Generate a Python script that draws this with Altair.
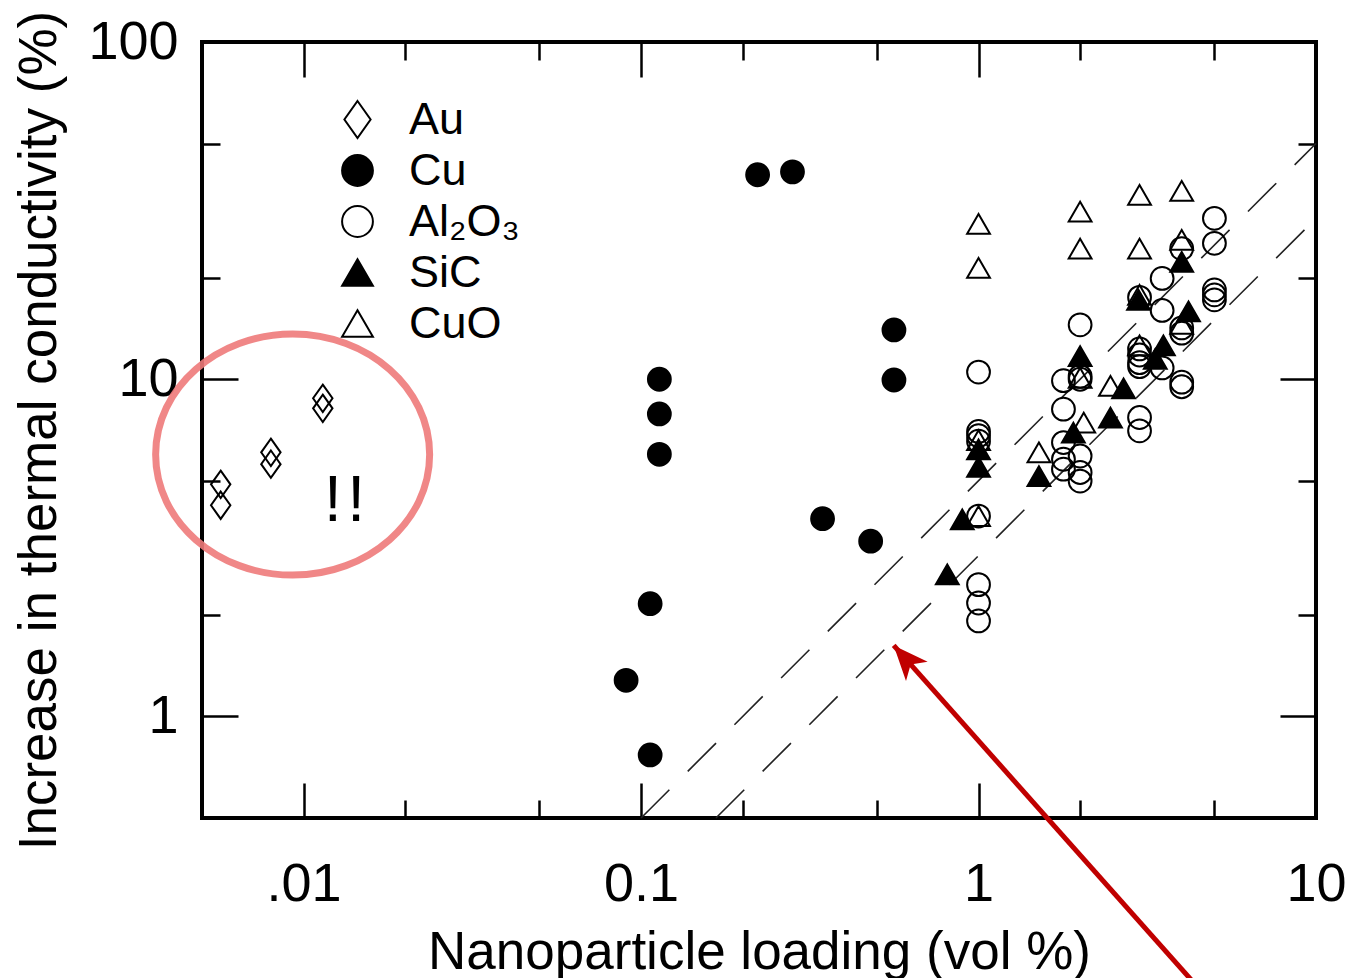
import math
import altair as alt
import pandas as pd

FONT = "Liberation Sans"

# ---------------- data ----------------
materials = ["Au", "Cu", "Al₂O₃", "SiC", "CuO"]

au_x = [0.00568, 0.00568, 0.0080, 0.0080, 0.0114, 0.0114]
au_y = [4.88, 4.23, 6.07, 5.60, 8.78, 8.20]

cu_x = [0.2215, 0.281, 0.5615, 0.5615, 0.1133, 0.1133, 0.1133, 0.345, 0.479, 0.1064, 0.0903, 0.1064]
cu_y = [40.4, 41.2, 14.0, 9.95, 10.0, 7.89, 5.99, 3.86, 3.31, 2.16, 1.28, 0.769]

al_x = [1.0, 1.0, 1.0, 1.0, 1.0, 1.0, 1.0, 1.0,
        1.785, 1.785, 1.785, 1.785, 1.785,
        2.0, 2.0, 2.0, 2.0, 2.0, 2.0,
        3.0, 3.0, 3.0, 3.0, 3.0, 3.0, 3.0,
        3.5, 3.5, 3.5,
        4.0, 4.0, 4.0, 4.0, 4.0,
        5.0, 5.0, 5.0, 5.0, 5.0]
al_y = [10.5, 7.0, 6.8, 6.55, 3.93, 2.46, 2.17, 1.92,
        9.9, 8.15, 6.49, 5.79, 5.41,
        14.5, 10.2, 10.0, 5.92, 5.29, 4.99,
        17.5, 12.3, 11.8, 11.2, 10.9, 7.70, 7.03,
        19.9, 16.0, 10.8,
        24.4, 14.2, 13.7, 9.8, 9.5,
        30.0, 25.3, 18.4, 17.8, 17.2]

sic_x = [1.0, 1.0, 1.51, 0.895, 0.808, 1.91, 2.0, 2.46, 2.69, 2.98, 3.34, 3.53, 4.19, 4.0]
sic_y = [6.2, 5.5, 5.16, 3.84, 2.64, 6.95, 11.7, 7.70, 9.4, 17.2, 11.5, 12.6, 15.9, 22.3]

cuo_x = [1.0, 1.0, 1.0, 1.0, 1.51, 2.0, 2.0, 2.0, 2.05, 2.46, 3.0, 3.0, 3.0, 3.0, 4.0, 4.0, 4.0]
cuo_y = [28.9, 21.4, 6.6, 3.93, 6.07, 31.4, 24.4, 10.1, 7.44, 9.55, 35.2, 24.4, 12.6, 17.8, 36.2, 25.9, 14.6]

# axes
x_domain = [0.005, 10]
y_domain = [0.5, 100]
x_major = [0.01, 0.1, 1, 10]
x_major_labels = [".01", "0.1", "1", "10"]
x_minor = [0.02, 0.05, 0.2, 0.5, 2, 5]
y_major = [1, 10, 100]
y_major_labels = ["1", "10", "100"]
y_minor = [2, 5, 20, 50]
x_title = "Nanoparticle loading (vol %)"
y_title = "Increase in thermal conductivity (%)"

# dashed guide lines (end points)
guide_names = ["upper", "lower"]
guide_x = [[0.1, 10], [0.1667, 10]]
guide_y = [[0.5, 50], [0.5, 30]]

# annotations
ellipse_x = [0.00928]
ellipse_y = [5.98]
note_x = [0.01322]
note_y = [3.79]
note_text = ["!\u200a!"]
arrow_x = [0.5605, 4.4]
arrow_y = [1.624, 0.16]

# ---------------- tables ----------------
rows = []
for name, xs, ys in zip(materials, [au_x, cu_x, al_x, sic_x, cuo_x], [au_y, cu_y, al_y, sic_y, cuo_y]):
    for a, b in zip(xs, ys):
        rows.append({"material": name, "x": a, "y": b})
pts = pd.DataFrame(rows)

grows = []
for n, xs, ys in zip(guide_names, guide_x, guide_y):
    for a, b in zip(xs, ys):
        grows.append({"line": n, "x": a, "y": b})
guides = pd.DataFrame(grows)

ell = pd.DataFrame({"x": ellipse_x, "y": ellipse_y})
note = pd.DataFrame({"x": note_x, "y": note_y, "t": note_text})
arrow = pd.DataFrame({"x": arrow_x, "y": arrow_y})
arrow_tip = arrow.iloc[[0]]

W, H = 1114, 776
xs_ = alt.Scale(type="log", domain=x_domain, nice=False)
ys_ = alt.Scale(type="log", domain=y_domain, nice=False)


def lab_expr(vals, labs):
    e = "''"
    for v, l in reversed(list(zip(vals, labs))):
        e = f"abs(log(datum.value)/LN10 - ({math.log10(v)})) < 0.01 ? '{l}' : ({e})"
    return e


def make_axis(orient, values, size, labels=None, title=None, **kw):
    props = dict(orient=orient, values=values, tickSize=size, offset=-size, domain=False,
                 grid=False, ticks=True, tickColor="black", tickWidth=2.5,
                 labelFlush=False, labelOverlap=False)
    if labels is None:
        props["labels"] = False
    else:
        props.update(labels=True, labelExpr=lab_expr(values, labels), labelFont=FONT,
                     labelFontSize=54, labelColor="black")
    if title is None:
        props["title"] = None
    else:
        props.update(title=title, titleFont=FONT, titleFontSize=53, titleFontWeight="normal",
                     titleColor="black")
    props.update(kw)
    return alt.Axis(**props)


ax_bottom = make_axis("bottom", x_major, 35, x_major_labels, x_title, labelPadding=39,
                      titleX=W / 2, titleY=185, titleBaseline="alphabetic", titleAnchor="middle")
ax_left = make_axis("left", y_major, 36, y_major_labels, y_title, labelPadding=24,
                    titleX=-183, titleY=H / 2, titleAngle=270, titleBaseline="alphabetic",
                    titleAnchor="middle")
ax_bottom_minor = make_axis("bottom", x_minor, 18)
ax_left_minor = make_axis("left", y_minor, 18)
ax_top = make_axis("top", x_major, 35)
ax_right = make_axis("right", y_major, 36)
ax_top_minor = make_axis("top", x_minor, 18)
ax_right_minor = make_axis("right", y_minor, 18)

# dashed lines (carry the main axes)
guide_layer = alt.Chart(guides).mark_line(color="#222222", strokeWidth=1.6, strokeDash=[40, 26]).encode(
    x=alt.X("x:Q", scale=xs_, axis=ax_bottom),
    y=alt.Y("y:Q", scale=ys_, axis=ax_left),
    detail="line:N",
)

ELLIPSE = "M-1,0A1,0.88,0,1,1,1,0A1,0.88,0,1,1,-1,0Z"
ellipse_layer = alt.Chart(ell).mark_point(
    shape=ELLIPSE, size=274 * 274, filled=False, stroke="#ef7b7b", strokeWidth=7,
    opacity=0.9, clip=False
).encode(
    x=alt.X("x:Q", scale=xs_, axis=ax_bottom_minor),
    y=alt.Y("y:Q", scale=ys_, axis=ax_left_minor),
)

arrow_layer = alt.Chart(arrow).mark_line(color="#c00000", strokeWidth=5, clip=False).encode(
    x=alt.X("x:Q", scale=xs_, axis=ax_top),
    y=alt.Y("y:Q", scale=ys_, axis=ax_right),
)

HEAD = "M0,0L0.5,1.2L0,0.88L-0.5,1.2Z"
head_layer = alt.Chart(arrow_tip).mark_point(
    shape=HEAD, size=58 * 58, filled=True, color="#c00000", opacity=1, angle=318.3, clip=False
).encode(
    x=alt.X("x:Q", scale=xs_, axis=ax_top_minor),
    y=alt.Y("y:Q", scale=ys_, axis=ax_right_minor),
)

note_layer = alt.Chart(note).mark_text(
    font=FONT, fontSize=64, align="center", baseline="alphabetic", color="black"
).encode(
    x=alt.X("x:Q", scale=xs_, axis=None),
    y=alt.Y("y:Q", scale=ys_, axis=None),
    text="t:N",
)

DIAMOND = "M0,-1.2L0.85,0L0,1.2L-0.85,0Z"
shapes = [DIAMOND, "circle", "circle", "triangle-up", "triangle-up"]
fills = ["transparent", "black", "transparent", "black", "transparent"]
strokes = ["black", "black", "black", "black", "black"]

leg = alt.Legend(title=None, orient="none", legendX=133, legendY=55, labelFont=FONT,
                 labelFontSize=45, labelColor="black", symbolSize=950, symbolStrokeWidth=2,
                 labelOffset=29, rowPadding=5, padding=0, labelLimit=400)

point_layer = alt.Chart(pts).mark_point(size=520, strokeWidth=2, opacity=1).encode(
    x=alt.X("x:Q", scale=xs_, axis=None),
    y=alt.Y("y:Q", scale=ys_, axis=None),
    shape=alt.Shape("material:N", scale=alt.Scale(domain=materials, range=shapes), legend=leg),
    fill=alt.Fill("material:N", scale=alt.Scale(domain=materials, range=fills), legend=leg),
    stroke=alt.Stroke("material:N", scale=alt.Scale(domain=materials, range=strokes), legend=leg),
)

chart = alt.layer(
    guide_layer, ellipse_layer, arrow_layer, head_layer, note_layer, point_layer
).resolve_scale(
    x="shared", y="shared"
).resolve_axis(
    x="independent", y="independent"
).properties(
    width=W, height=H,
    autosize=alt.AutoSizeParams(type="none"),
    padding={"left": 202, "top": 42, "right": 36, "bottom": 160},
    background="white",
).configure_view(
    stroke="black", strokeWidth=4
)

chart.save("out.html", embed_options={"renderer": "svg", "actions": False})
